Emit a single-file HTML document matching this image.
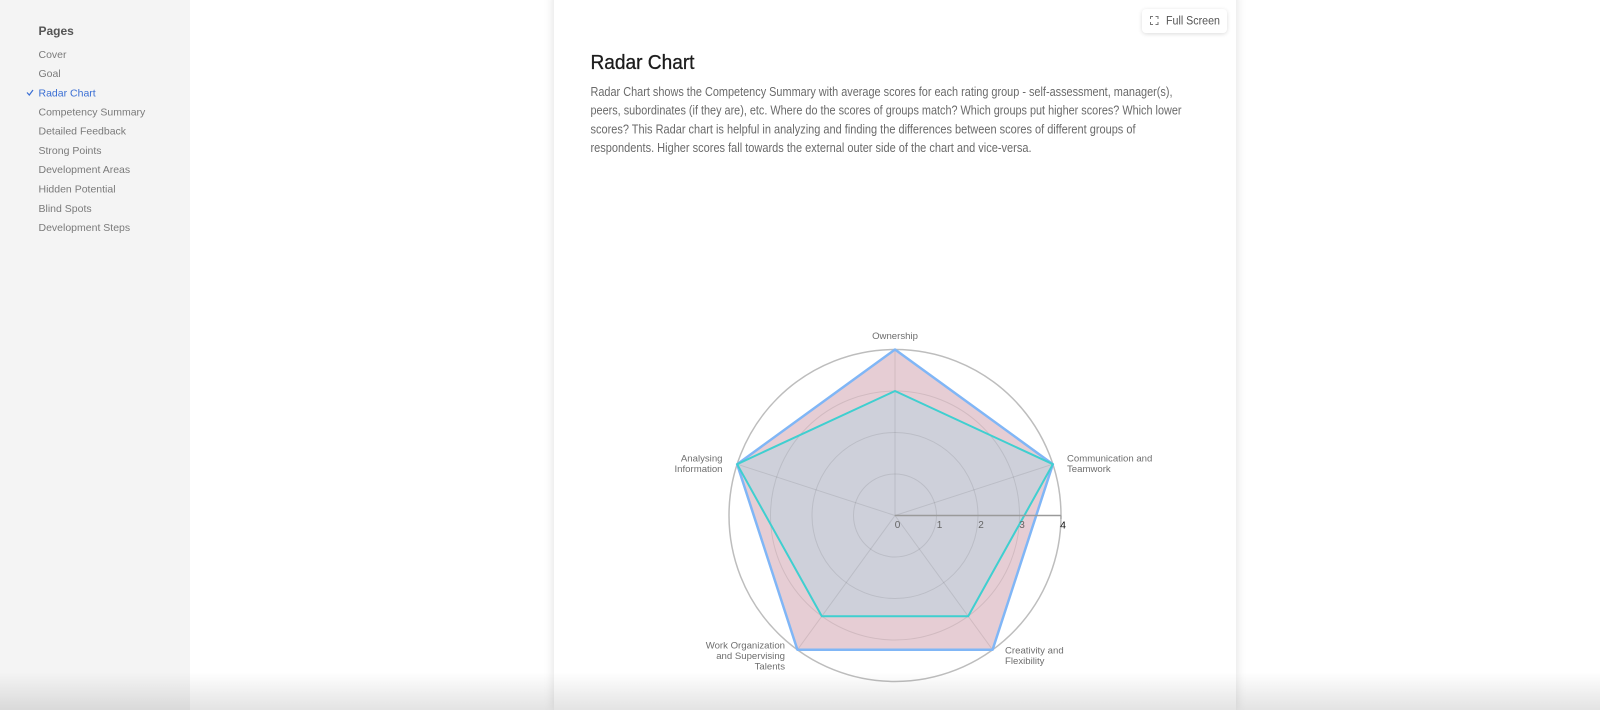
<!DOCTYPE html>
<html><head><meta charset="utf-8"><style>
html,body{margin:0;padding:0;width:1600px;height:710px;overflow:hidden;background:#fff;font-family:"Liberation Sans",sans-serif}
#wrap{position:relative;width:1600px;height:710px;overflow:hidden}
#side{position:absolute;left:0;top:0;width:190px;height:710px;background:#f4f4f4}
#card{position:absolute;left:554px;top:-10px;width:682px;height:720px;background:#fff;box-shadow:0 0 10px rgba(0,0,0,0.13)}
#btn{position:absolute;left:1142px;top:9px;width:85px;height:24px;background:#fff;border-radius:4px;box-shadow:0 1px 4px rgba(0,0,0,0.14)}
#fade{position:absolute;left:0;top:672px;width:1600px;height:38px;background:linear-gradient(to bottom,rgba(0,0,0,0),rgba(0,0,0,0.11))}
svg{position:absolute;left:0;top:0}
</style></head><body>
<div id="wrap">
<div id="side"></div>
<div id="card"></div>
<div id="btn"></div>
<svg width="1600" height="710" viewBox="0 0 1600 710" font-family="Liberation Sans, sans-serif">
  <!-- sidebar -->
  <text x="38.5" y="35" font-size="12" fill="#555" font-weight="bold">Pages</text>
  <g font-size="10.5" fill="#7a7a7a">
    <text x="38.5" y="58">Cover</text>
    <text x="38.5" y="77">Goal</text>
    <text x="38.5" y="96.5" fill="#3b6fd4">Radar Chart</text>
    <text x="38.5" y="115.5">Competency Summary</text>
    <text x="38.5" y="134.5">Detailed Feedback</text>
    <text x="38.5" y="154">Strong Points</text>
    <text x="38.5" y="173">Development Areas</text>
    <text x="38.5" y="192.5">Hidden Potential</text>
    <text x="38.5" y="212">Blind Spots</text>
    <text x="38.5" y="231">Development Steps</text>
  </g>
  <path d="M27 92.5 L29.3 95 L33 90" stroke="#3b6fd4" stroke-width="1.2" fill="none"/>

  <!-- full screen button -->
  <g stroke="#777" stroke-width="1" fill="none">
    <path d="M1150.5 19 v-2.5 h2.5 M1155.5 16.5 h2.5 v2.5 M1158 22 v2.5 h-2.5 M1153 24.5 h-2.5 v-2.5"/>
  </g>
  <text x="1166" y="24.5" font-size="11.5" fill="#555" textLength="54" lengthAdjust="spacingAndGlyphs">Full Screen</text>

  <!-- title & paragraph -->
  <text x="590.5" y="69" font-size="20.5" fill="#1c1c1c" textLength="104" lengthAdjust="spacingAndGlyphs" stroke="#1c1c1c" stroke-width="0.3">Radar Chart</text>
  <g font-size="12.5" fill="#6a6a6a">
    <text x="590.5" y="96" textLength="582" lengthAdjust="spacingAndGlyphs">Radar Chart shows the Competency Summary with average scores for each rating group - self-assessment, manager(s),</text>
    <text x="590.5" y="114.5" textLength="591" lengthAdjust="spacingAndGlyphs">peers, subordinates (if they are), etc. Where do the scores of groups match? Which groups put higher scores? Which lower</text>
    <text x="590.5" y="133.5" textLength="545" lengthAdjust="spacingAndGlyphs">scores? This Radar chart is helpful in analyzing and finding the differences between scores of different groups of</text>
    <text x="590.5" y="152" textLength="441" lengthAdjust="spacingAndGlyphs">respondents. Higher scores fall towards the external outer side of the chart and vice-versa.</text>
  </g>

  <!-- radar -->
  <circle cx="895" cy="515.5" r="166" fill="none" stroke="#bdbdbd" stroke-width="1.5"/>
  <polygon points="895,349.5 1052.88,464.2 992.57,649.8 797.43,649.8 737.12,464.2" fill="#e6cdd4"/>
  <polygon points="895,391 1052.88,464.2 968.18,616.22 821.82,616.22 737.12,464.2" fill="#ced0da"/>
  <g stroke="rgba(0,0,0,0.09)" stroke-width="1" fill="none">
    <circle cx="895" cy="515.5" r="41.5"/>
    <circle cx="895" cy="515.5" r="83"/>
    <circle cx="895" cy="515.5" r="124.5"/>
    <line x1="895" y1="515.5" x2="895" y2="349.5"/>
    <line x1="895" y1="515.5" x2="1052.88" y2="464.2"/>
    <line x1="895" y1="515.5" x2="992.57" y2="649.8"/>
    <line x1="895" y1="515.5" x2="797.43" y2="649.8"/>
    <line x1="895" y1="515.5" x2="737.12" y2="464.2"/>
  </g>
  <polygon points="895,349.5 1052.88,464.2 992.57,649.8 797.43,649.8 737.12,464.2" fill="none" stroke="#80b6f6" stroke-width="2.5" stroke-linejoin="round"/>
  <polygon points="895,391 1052.88,464.2 968.18,616.22 821.82,616.22 737.12,464.2" fill="none" stroke="#3fcfd0" stroke-width="2" stroke-linejoin="round"/>
  <line x1="895" y1="515.5" x2="1061" y2="515.5" stroke="#9a9a9a" stroke-width="1.5"/>
  <line x1="1061" y1="515.5" x2="1061" y2="519" stroke="#9a9a9a" stroke-width="1"/>
  <g font-size="10" fill="#666" text-anchor="middle">
    <text x="897.5" y="528">0</text>
    <text x="939.5" y="528">1</text>
    <text x="981" y="528">2</text>
    <text x="1022" y="528">3</text>
    <text x="1063" y="528.5" fill="#111" font-size="10.5">4</text>
  </g>
  <g font-size="9.6" fill="#6e6e6e">
    <text x="895" y="339" text-anchor="middle">Ownership</text>
    <text x="1067" y="461.5">Communication and</text>
    <text x="1067" y="472">Teamwork</text>
    <text x="722.5" y="461.5" text-anchor="end">Analysing</text>
    <text x="722.5" y="472" text-anchor="end">Information</text>
    <text x="1005" y="653.5">Creativity and</text>
    <text x="1005" y="664">Flexibility</text>
    <text x="785" y="648.5" text-anchor="end">Work Organization</text>
    <text x="785" y="659" text-anchor="end">and Supervising</text>
    <text x="785" y="669.5" text-anchor="end">Talents</text>
  </g>
</svg>
<div id="fade"></div>
</div>
</body></html>
